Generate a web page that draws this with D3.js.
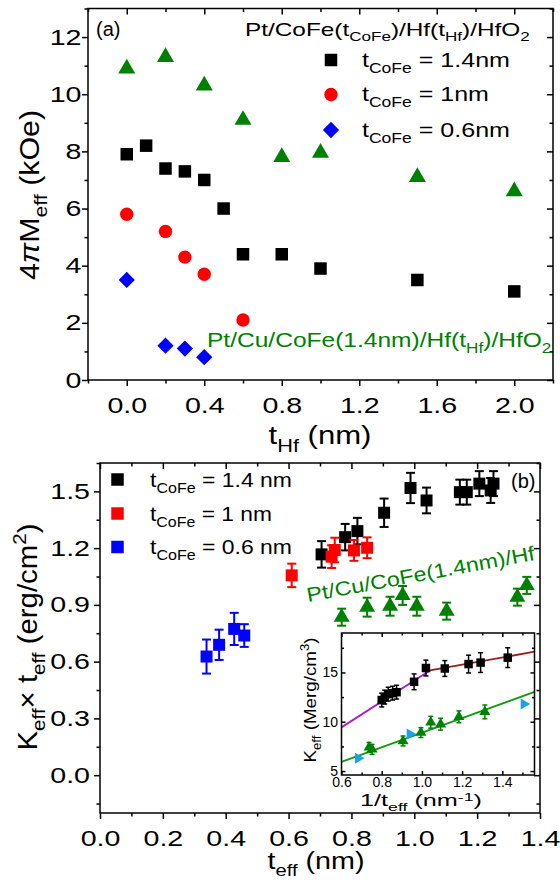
<!DOCTYPE html>
<html>
<head>
<meta charset="utf-8">
<script src="https://cdn.jsdelivr.net/npm/d3@7"></script>
<style>
  body { margin: 0; background: #fff; }
  svg { display: block; }
  text { font-family: "Liberation Sans", Arial, Helvetica, sans-serif; }
</style>
</head>
<body>
<svg width="560" height="884"></svg>
<script>
// ---- panel (a): 4piMeff vs tHf ----
var tHfBlack = [0, 0.1, 0.2, 0.3, 0.4, 0.5, 0.6, 0.8, 1.0, 1.5, 2.0];
var mBlack   = [7.9, 8.2, 7.4, 7.3, 7.0, 6.0, 4.4, 4.4, 3.9, 3.5, 3.1];
var tHfRed   = [0, 0.2, 0.3, 0.4, 0.6];
var mRed     = [5.8, 5.2, 4.3, 3.7, 2.1];
var tHfBlue  = [0, 0.2, 0.3, 0.4];
var mBlue    = [3.5, 1.2, 1.1, 0.8];
var tHfGreen = [0, 0.2, 0.4, 0.6, 0.8, 1.0, 1.5, 2.0];
var mGreen   = [10.9, 11.3, 10.3, 9.1, 7.8, 7.95, 7.1, 6.6];
var aTicksX = [0, 0.4, 0.8, 1.2, 1.6, 2.0];
var aTicksY = [0, 2, 4, 6, 8, 10, 12];

// ---- panel (b): Keff x teff vs teff ----
var teffBlack = [0.705, 0.78, 0.819, 0.904, 0.988, 1.039, 1.145, 1.167, 1.207, 1.243, 1.252];
var ktBlack   = [1.167, 1.258, 1.29, 1.387, 1.518, 1.452, 1.496, 1.496, 1.541, 1.505, 1.541];
var errBlack  = [0.07, 0.07, 0.07, 0.075, 0.08, 0.068, 0.066, 0.066, 0.066, 0.066, 0.066];
var teffRed   = [0.61, 0.737, 0.747, 0.808, 0.85];
var ktRed     = [1.056, 1.155, 1.19, 1.188, 1.202];
var errRed    = [0.062, 0.06, 0.065, 0.055, 0.055];
var teffBlue  = [0.339, 0.379, 0.427, 0.459];
var ktBlue    = [0.627, 0.689, 0.773, 0.738];
var errBlue   = [0.09, 0.08, 0.085, 0.06];
var teffGreen = [0.769, 0.85, 0.923, 0.963, 1.008, 1.103, 1.328, 1.358];
var ktGreen   = [0.835, 0.888, 0.893, 0.95, 0.893, 0.867, 0.941, 1.003];
var errGreen  = [0.045, 0.05, 0.05, 0.05, 0.05, 0.045, 0.045, 0.045];
var bTicksX = [0, 0.2, 0.4, 0.6, 0.8, 1.0, 1.2, 1.4];
var bTicksY = [0, 0.3, 0.6, 0.9, 1.2, 1.5];

// ---- inset: Keff vs 1/teff ----
var invBlack = [0.80, 0.815, 0.832, 0.854, 0.874, 0.961, 1.02, 1.114, 1.232, 1.292, 1.427];
var kBlack   = [12.2, 12.5, 12.8, 12.9, 13.0, 14.05, 15.45, 15.4, 15.85, 16.0, 16.5];
var kErrBlack = [0.7, 0.7, 0.7, 0.7, 0.7, 0.8, 0.8, 0.8, 0.9, 1.0, 1.0];
var invGreen = [0.737, 0.752, 0.906, 0.995, 1.044, 1.093, 1.184, 1.313];
var kGreen   = [7.4, 7.2, 8.05, 8.9, 9.95, 9.75, 10.5, 11.0];
var kErrGreen = [0.5, 0.5, 0.5, 0.5, 0.6, 0.6, 0.6, 0.7];
var invCyan  = [0.683, 0.94, 1.507];
var kCyan    = [6.3, 8.75, 11.8];
var fitPurpleX = [0.6, 1.04],  fitPurpleY = [9.43, 15.2];
var fitRedX    = [1.04, 1.56], fitRedY    = [15.2, 17.1];
var fitGreenX  = [0.6, 1.56],  fitGreenY  = [5.94, 13.03];
var iTicksX = [0.6, 0.8, 1.0, 1.2, 1.4];
var iTicksY = [5, 10, 15];

var GREEN = "#008000", CYAN = "#1e9ff0";

var svg = d3.select("svg");

// text with sub/superscripts; optional len stretches it horizontally to a measured width
function label(g, parts, o) {
  var t = g.append("text").attr("font-size", o.fs).attr("fill", o.fill || "#000")
    .attr("text-anchor", o.anchor || "start");
  var prev = 0, supUp = o.sup || 0.42;
  parts.forEach(function(p) {
    var d = 0, size = o.fs;
    if (p[1] === "sub") { d = 0.3 * o.fs; size = 0.7 * o.fs; }
    if (p[1] === "sup") { d = -supUp * o.fs; size = 0.7 * o.fs; }
    var ts = t.append("tspan").attr("dy", (d - prev).toFixed(2)).attr("font-size", size).text(p[0]);
    if (p[2]) ts.attr("font-style", p[2]);
    prev = d;
  });
  var sx = o.len ? o.len / t.node().getBBox().width : 1;
  t.attr("transform", "translate(" + o.x + "," + o.y + ")" + (o.rot ? " rotate(" + o.rot + ")" : "") +
    " scale(" + sx.toFixed(3) + ",1)");
  return t;
}

function clean(sel) { sel.select(".domain").remove(); sel.selectAll("line").attr("stroke-width", 1.5); sel.attr("font-family", null); }

// box with ticks. out=true: bottom/left ticks outward, top/right inward
function frame(g, x, y, o) {
  var x0 = x.range()[0], x1 = x.range()[1], y0 = y.range()[0], y1 = y.range()[1];
  var T = o.tick, m = o.minor, s = o.out ? 1 : -1, sx = o.sx || 1;
  g.append("g").attr("transform", "translate(0," + y0 + ")")
    .call(d3.axisBottom(x).tickValues(o.mx).tickSize(s * m).tickFormat("")).call(clean);
  g.append("g").attr("transform", "translate(0," + y0 + ")")
    .call(d3.axisBottom(x).tickValues(o.tx).tickSize(s * T).tickPadding(o.padX).tickFormat(o.fx)).call(clean)
    .selectAll("text").attr("font-size", o.fs).attr("transform", "scale(" + sx + ",1)");
  g.append("g").attr("transform", "translate(" + x0 + ",0)")
    .call(d3.axisLeft(y).tickValues(o.my).tickSize(s * m).tickFormat("")).call(clean);
  g.append("g").attr("transform", "translate(" + x0 + ",0)")
    .call(d3.axisLeft(y).tickValues(o.ty).tickSize(s * T).tickFormat(o.fy)).call(clean)
    .selectAll("text").attr("font-size", o.fs).attr("x", 0)
    .attr("transform", "translate(" + (-o.gapY) + ",0) scale(" + sx + ",1)");
  // top and right, inward
  g.append("g").attr("transform", "translate(0," + y1 + ")")
    .call(d3.axisBottom(x).tickValues(o.mx).tickSize(m).tickFormat("")).call(clean);
  g.append("g").attr("transform", "translate(0," + y1 + ")")
    .call(d3.axisBottom(x).tickValues(o.tx).tickSize(T).tickFormat("")).call(clean);
  g.append("g").attr("transform", "translate(" + x1 + ",0)")
    .call(d3.axisLeft(y).tickValues(o.my).tickSize(m).tickFormat("")).call(clean);
  g.append("g").attr("transform", "translate(" + x1 + ",0)")
    .call(d3.axisLeft(y).tickValues(o.ty).tickSize(T).tickFormat("")).call(clean);
  g.append("rect").attr("x", x0).attr("y", y1).attr("width", x1 - x0).attr("height", y0 - y1)
    .attr("fill", "none").attr("stroke", "#000").attr("stroke-width", 1.5);
}

function markers(g, xs, ys, x, y, type, size, color, rot) {
  var sym = d3.symbol().type(type).size(size);
  g.selectAll(null).data(xs).enter().append("path")
    .attr("d", sym)
    .attr("transform", function(d, i) { return "translate(" + x(d) + "," + y(ys[i]) + ")" + (rot ? " rotate(" + rot + ")" : ""); })
    .attr("fill", color);
}

function errbars(g, xs, ys, es, x, y, color, cap, sw) {
  var e = g.selectAll(null).data(xs).enter().append("g").attr("stroke", color).attr("stroke-width", sw);
  e.append("line").attr("x1", function(d) { return x(d); }).attr("x2", function(d) { return x(d); })
    .attr("y1", function(d, i) { return y(ys[i] - es[i]); }).attr("y2", function(d, i) { return y(ys[i] + es[i]); });
  [1, -1].forEach(function(k) {
    e.append("line").attr("x1", function(d) { return x(d) - cap / 2; }).attr("x2", function(d) { return x(d) + cap / 2; })
      .attr("y1", function(d, i) { return y(ys[i] + k * es[i]); }).attr("y2", function(d, i) { return y(ys[i] + k * es[i]); });
  });
}

var SQ = d3.symbolSquare, CI = d3.symbolCircle, TR = d3.symbolTriangle;
function sq(s) { return s * s; }
function tri(s) { return Math.sqrt(3) / 4 * s * s; }

// ================= panel (a) =================
var ga = svg.append("g");
var xa = d3.scaleLinear().domain([-0.2, 2.2]).range([88, 553]);
var ya = d3.scaleLinear().domain([0, 13]).range([380, 8.5]);

markers(ga, tHfGreen, mGreen, xa, ya, TR, tri(17), GREEN);
markers(ga, tHfBlack, mBlack, xa, ya, SQ, sq(12.5), "#000");
markers(ga, tHfRed, mRed, xa, ya, CI, Math.PI * 6.7 * 6.7, "#ff0000");
markers(ga, tHfBlue, mBlue, xa, ya, SQ, sq(11.5), "#0000ff", 45);

frame(ga, xa, ya, {
  tx: aTicksX, mx: [-0.2, 0.2, 0.6, 1.0, 1.4, 1.8, 2.2], ty: aTicksY, my: [1, 3, 5, 7, 9, 11, 13],
  tick: 6, minor: 3.5, out: true, fs: 22, padX: 11, gapY: 6.5, sx: 1.3,
  fx: d3.format(".1f"), fy: d3.format("d")
});

label(ga, [["(a)"]], { x: 96, y: 36, fs: 20 });
label(ga, [["Pt/CoFe(t"], ["CoFe", "sub"], [")/Hf(t"], ["Hf", "sub"], [")/HfO"], ["2", "sub"]],
  { x: 245, y: 36, fs: 18, len: 285 });
var legA = [["1.4nm", SQ, "#000", 0, sq(12.5)], ["1nm", CI, "#ff0000", 0, Math.PI * 6.7 * 6.7], ["0.6nm", SQ, "#0000ff", 45, sq(11.5)]];
var legAy = [60, 94.5, 130], legAlen = [148, 127, 148];
legA.forEach(function(L, i) {
  ga.append("path").attr("d", d3.symbol().type(L[1]).size(L[4]))
    .attr("transform", "translate(331," + legAy[i] + ") rotate(" + L[3] + ")").attr("fill", L[2]);
  label(ga, [["t"], ["CoFe", "sub"], [" = " + L[0]]], { x: 362, y: legAy[i] + 6.5, fs: 20, len: legAlen[i] });
});
label(ga, [["Pt/Cu/CoFe(1.4nm)/Hf(t"], ["Hf", "sub"], [")/HfO"], ["2", "sub"]],
  { x: 207, y: 347, fs: 20, fill: GREEN, len: 345 });
label(ga, [["t"], ["Hf", "sub"], [" (nm)"]], { x: 320, y: 444, fs: 25, anchor: "middle", len: 103 });
label(ga, [["4"], ["\u03c0", null, "italic"], ["M"], ["eff", "sub"], [" (kOe)"]],
  { x: 39, y: 195, fs: 27, anchor: "middle", rot: -90, len: 170 });

// ================= panel (b) =================
var gb = svg.append("g");
var xb = d3.scaleLinear().domain([0, 1.4]).range([100, 540]);
var yb = d3.scaleLinear().domain([-0.2, 1.65]).range([813, 463]);

errbars(gb, teffBlue, ktBlue, errBlue, xb, yb, "#0000ff", 9, 2);
markers(gb, teffBlue, ktBlue, xb, yb, SQ, sq(12), "#0000ff");
errbars(gb, teffGreen, ktGreen, errGreen, xb, yb, GREEN, 9, 2);
markers(gb, teffGreen, ktGreen, xb, yb, TR, tri(16), GREEN);
errbars(gb, teffBlack, ktBlack, errBlack, xb, yb, "#000", 9, 2);
markers(gb, teffBlack, ktBlack, xb, yb, SQ, sq(12), "#000");
errbars(gb, teffRed, ktRed, errRed, xb, yb, "#ff0000", 9, 2);
markers(gb, teffRed, ktRed, xb, yb, SQ, sq(12), "#ff0000");

frame(gb, xb, yb, {
  tx: bTicksX, mx: [0.1, 0.3, 0.5, 0.7, 0.9, 1.1, 1.3], ty: bTicksY, my: [-0.15, 0.15, 0.45, 0.75, 1.05, 1.35, 1.65],
  tick: 6, minor: 3.5, out: true, fs: 22, padX: 11, gapY: 10, sx: 1.3,
  fx: d3.format(".1f"), fy: d3.format(".1f")
});

var legB = [["1.4 nm", "#000"], ["1 nm", "#ff0000"], ["0.6 nm", "#0000ff"]];
var legBy = [479.5, 513.5, 547], legBlen = [142, 122, 142];
legB.forEach(function(L, i) {
  gb.append("path").attr("d", d3.symbol().type(SQ).size(sq(12.5)))
    .attr("transform", "translate(117.5," + legBy[i] + ")").attr("fill", L[1]);
  label(gb, [["t"], ["CoFe", "sub"], [" = " + L[0]]], { x: 150, y: legBy[i] + 7, fs: 20, len: legBlen[i] });
});
label(gb, [["(b)"]], { x: 511, y: 488, fs: 20 });
label(gb, [["Pt/Cu/CoFe(1.4nm)/Hf"]], { x: 308, y: 602, fs: 20, fill: GREEN, rot: -10.5, len: 232 });
label(gb, [["t"], ["eff", "sub"], [" (nm)"]], { x: 316, y: 869, fs: 24, anchor: "middle", len: 97 });
label(gb, [["K"], ["eff", "sub"], ["\u00d7 t"], ["eff", "sub"], [" (erg/cm"], ["2", "sup"], [")"]],
  { x: 37, y: 637, fs: 27, anchor: "middle", rot: -90, len: 227 });

// ================= inset =================
var gi = svg.append("g");
var xi = d3.scaleLinear().domain([0.6, 1.56]).range([341.5, 534.5]);
var yi = d3.scaleLinear().domain([4.6, 19]).range([775, 633]);
gi.append("rect").attr("x", 341.5).attr("y", 633).attr("width", 193).attr("height", 142).attr("fill", "#fff");

var line = d3.line().x(function(d) { return xi(d[0]); }).y(function(d) { return yi(d[1]); });
gi.append("path").attr("d", line(d3.zip(fitPurpleX, fitPurpleY))).attr("stroke", "#a21fcc").attr("stroke-width", 1.8).attr("fill", "none");
gi.append("path").attr("d", line(d3.zip(fitRedX, fitRedY))).attr("stroke", "#9b1a1a").attr("stroke-width", 1.8).attr("fill", "none");
gi.append("path").attr("d", line(d3.zip(fitGreenX, fitGreenY))).attr("stroke", "#119a11").attr("stroke-width", 1.8).attr("fill", "none");

errbars(gi, invBlack, kBlack, kErrBlack, xi, yi, "#000", 5, 1.5);
markers(gi, invBlack, kBlack, xi, yi, SQ, sq(8.5), "#000");
errbars(gi, invGreen, kGreen, kErrGreen, xi, yi, GREEN, 5, 1.5);
markers(gi, invGreen, kGreen, xi, yi, TR, tri(11), GREEN);
markers(gi, invCyan, kCyan, xi, yi, TR, tri(11), CYAN, 90);

frame(gi, xi, yi, {
  tx: iTicksX, mx: [0.7, 0.9, 1.1, 1.3, 1.5], ty: iTicksY, my: [7.5, 12.5, 17.5],
  tick: 4, minor: 2.5, out: false, fs: 14, padX: 2, gapY: 3.5,
  fx: d3.format(".1f"), fy: d3.format("d")
});
label(gi, [["1/t"], ["eff", "sub"], [" (nm"], ["-1", "sup"], [")"]], { x: 421, y: 806, fs: 16, anchor: "middle", len: 122, sup: 0.33 });
label(gi, [["K"], ["eff", "sub"], [" (Merg/cm"], ["3", "sup"], [")"]], { x: 316, y: 700, fs: 17, anchor: "middle", rot: -90, len: 125 });
</script>
</body>
</html>
